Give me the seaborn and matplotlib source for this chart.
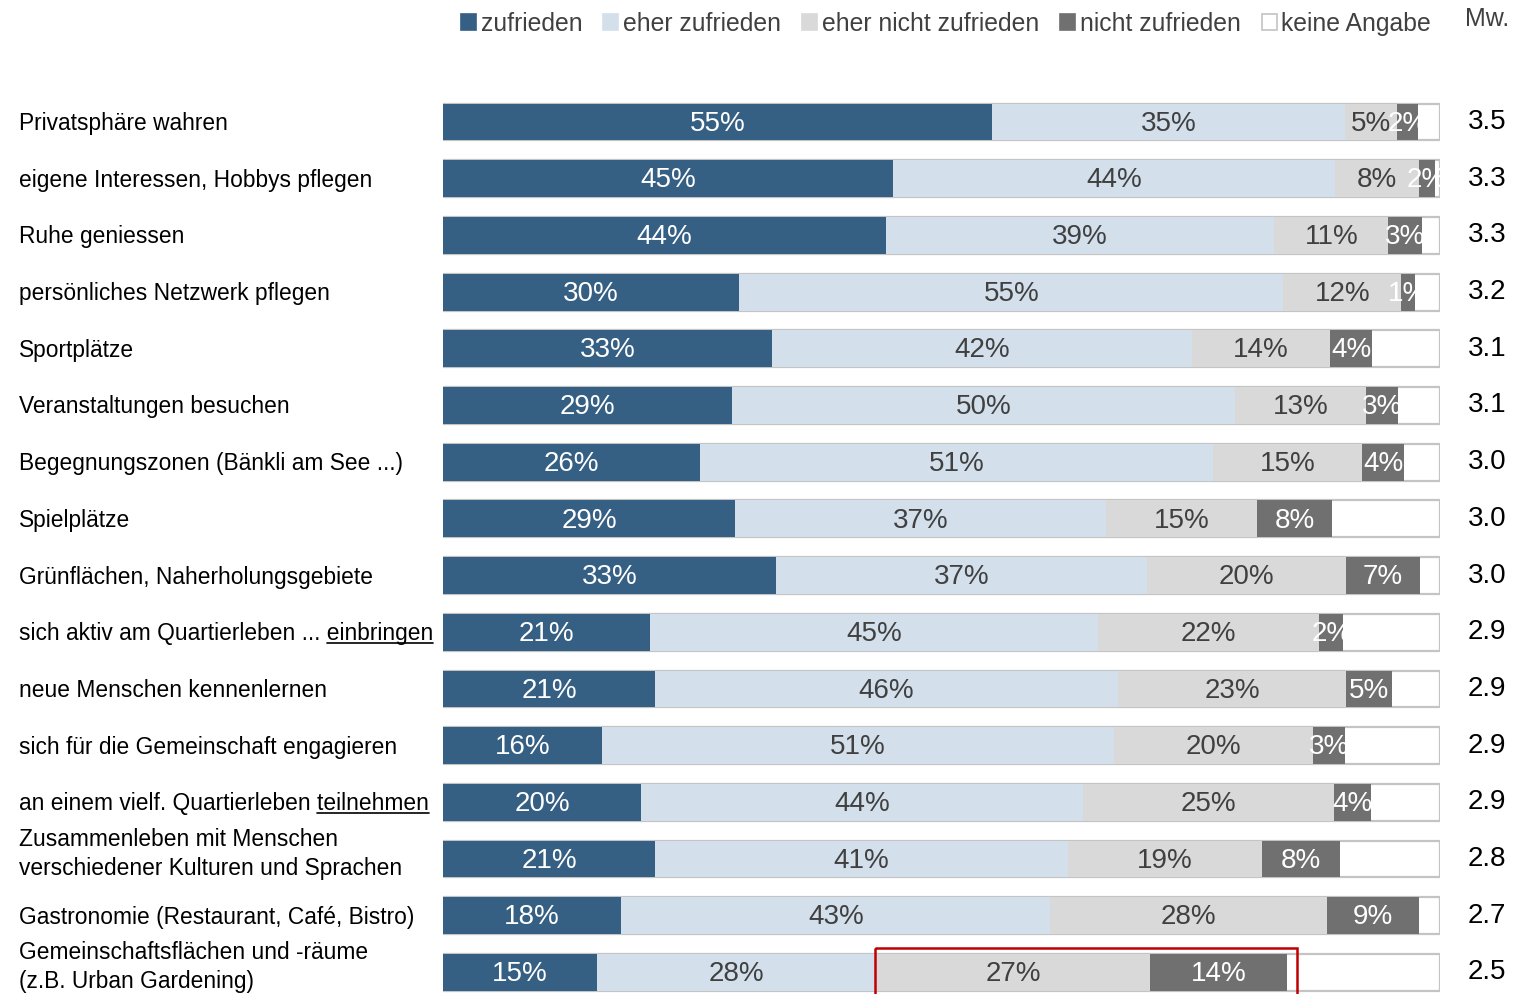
import numpy as np
import pandas as pd
import seaborn as sns
import matplotlib
matplotlib.use("Agg")
import matplotlib.pyplot as plt
from matplotlib.patches import Patch, Rectangle
from matplotlib.lines import Line2D
import matplotlib.transforms as mtransforms

categories = [
    "Privatsphäre wahren",
    "eigene Interessen, Hobbys pflegen",
    "Ruhe geniessen",
    "persönliches Netzwerk pflegen",
    "Sportplätze",
    "Veranstaltungen besuchen",
    "Begegnungszonen (Bänkli am See ...)",
    "Spielplätze",
    "Grünflächen, Naherholungsgebiete",
    "sich aktiv am Quartierleben ... einbringen",
    "neue Menschen kennenlernen",
    "sich für die Gemeinschaft engagieren",
    "an einem vielf. Quartierleben teilnehmen",
    "Zusammenleben mit Menschen\nverschiedener Kulturen und Sprachen",
    "Gastronomie (Restaurant, Café, Bistro)",
    "Gemeinschaftsflächen und -räume\n(z.B. Urban Gardening)",
]
underlined_words = {9: "einbringen", 12: "teilnehmen"}

series_names = ["zufrieden", "eher zufrieden", "eher nicht zufrieden", "nicht zufrieden", "keine Angabe"]
zufrieden = [55.1, 45.1, 44.4, 29.7, 33.0, 29.0, 25.8, 29.3, 33.4, 20.8, 21.3, 15.9, 19.9, 21.3, 17.9, 15.4]
eher_zufrieden = [35.4, 44.4, 39.0, 54.6, 42.1, 50.4, 51.4, 37.2, 37.2, 44.9, 46.4, 51.4, 44.3, 41.4, 43.0, 28.1]
eher_nicht_zufrieden = [5.2, 8.4, 11.4, 11.8, 13.9, 13.2, 15.0, 15.1, 20.0, 22.2, 22.9, 20.0, 25.2, 19.4, 27.8, 27.4]
nicht_zufrieden = [2.1, 1.6, 3.4, 1.4, 4.2, 3.2, 4.2, 7.6, 7.4, 2.4, 4.6, 3.2, 3.7, 7.9, 9.2, 13.8]
keine_angabe = [2.2, 0.5, 1.8, 2.5, 6.8, 4.2, 3.6, 10.8, 2.0, 9.7, 4.8, 9.5, 6.9, 10.0, 2.1, 15.3]
mittelwert = [3.5, 3.3, 3.3, 3.2, 3.1, 3.1, 3.0, 3.0, 3.0, 2.9, 2.9, 2.9, 2.9, 2.8, 2.7, 2.5]

colors = ["#355f83", "#d3e0ec", "#d9d9d9", "#707070", "#ffffff"]
text_colors = ["white", "#404040", "#404040", "white", "#404040"]

sns.set_theme(style="white")
FONT = ["Liberation Sans", "DejaVu Sans"]
plt.rcParams["font.family"] = FONT

W, H = 1528, 994
fig = plt.figure(figsize=(W / 100, H / 100), dpi=100)
ax = fig.add_axes([443 / W, 0, 997 / W, 1])

series = [zufrieden, eher_zufrieden, eher_nicht_zufrieden, nicht_zufrieden, keine_angabe]
df = pd.DataFrame({"cat": categories})
for name, vals in zip(series_names, series):
    df[name] = vals
cum = np.cumsum(np.array(series), axis=0)  # shape (5, n)
for k in range(5):
    df[f"cum{k}"] = cum[k]

# draw stacked bars by overlaying cumulative totals
for k in range(4, -1, -1):
    kw = dict(linewidth=0)
    if k == 4:
        kw = dict(edgecolor="#c4c4c4", linewidth=1.6)
    sns.barplot(data=df, x=f"cum{k}", y="cat", order=categories, orient="y",
                color=colors[k], saturation=1, width=0.65, errorbar=None,
                ax=ax, **kw)

n = len(categories)
ax.set_xlim(0, 100)
ax.set_ylim(15.38, -2.152)
ax.set_xlabel("")
ax.set_ylabel("")
ax.set_xticks([])
ax.set_yticks([])
for s in ax.spines.values():
    s.set_visible(False)

# segment labels
for i in range(n):
    left = 0.0
    for k in range(4):
        v = series[k][i]
        ax.text(left + v / 2, i + 0.03, f"{int(round(v))}%", ha="center", va="center",
                fontsize=20, color=text_colors[k])
        left += v
    ax.text(104.7, i + 0.0, f"{mittelwert[i]:.1f}", ha="center", va="center",
            fontsize=20, color="black")

# category labels
LFS = 16.4
trans = mtransforms.blended_transform_factory(fig.transFigure, ax.transData)
label_texts = {}
for i, c in enumerate(categories):
    if "\n" in c:
        t = ax.text(19 / W, i + 0.28, c, transform=trans, ha="left", va="baseline",
                    fontsize=LFS, color="black", linespacing=1.35)
    else:
        t = ax.text(19 / W, i + 0.14, c, transform=trans, ha="left", va="baseline",
                    fontsize=LFS, color="black")
    label_texts[i] = t

fig.canvas.draw()
renderer = fig.canvas.get_renderer()
for i, word in underlined_words.items():
    t = label_texts[i]
    bb = t.get_window_extent(renderer)
    tmp = fig.text(0, 0, word, fontsize=LFS)
    ww = tmp.get_window_extent(renderer).width
    tmp.remove()
    yb = ax.transData.transform((0, i + 0.14))[1] - 3
    x0, x1 = bb.x1 - ww, bb.x1
    fig.add_artist(Line2D([x0 / W, x1 / W], [yb / H, yb / H], transform=fig.transFigure,
                          color="black", linewidth=1.2))

# highlight box around last row
last = n - 1
x_start = cum[1][last] - 0.2
x_end = cum[3][last] + 0.95
ax.add_patch(Rectangle((x_start, last - 0.43), x_end - x_start, 1.2, fill=False,
                       edgecolor="#c00000", linewidth=1.8, clip_on=True, zorder=5))

# legend
handles = [Patch(facecolor=colors[k], edgecolor=("#c4c4c4" if k == 4 else colors[k]),
                 linewidth=1.2) for k in range(5)]
fig.legend(handles, series_names, loc="center", bbox_to_anchor=(946 / W, 1 - 24 / H),
           ncol=5, frameon=False, handlelength=0.6, handleheight=0.6, handletextpad=0.2,
           columnspacing=0.85, fontsize=17.8, labelcolor="#404040")
fig.text(1487 / W, 1 - 19 / H, "Mw.", ha="center", va="center", fontsize=18, color="#404040")

fig.savefig("out.png", dpi=100)
